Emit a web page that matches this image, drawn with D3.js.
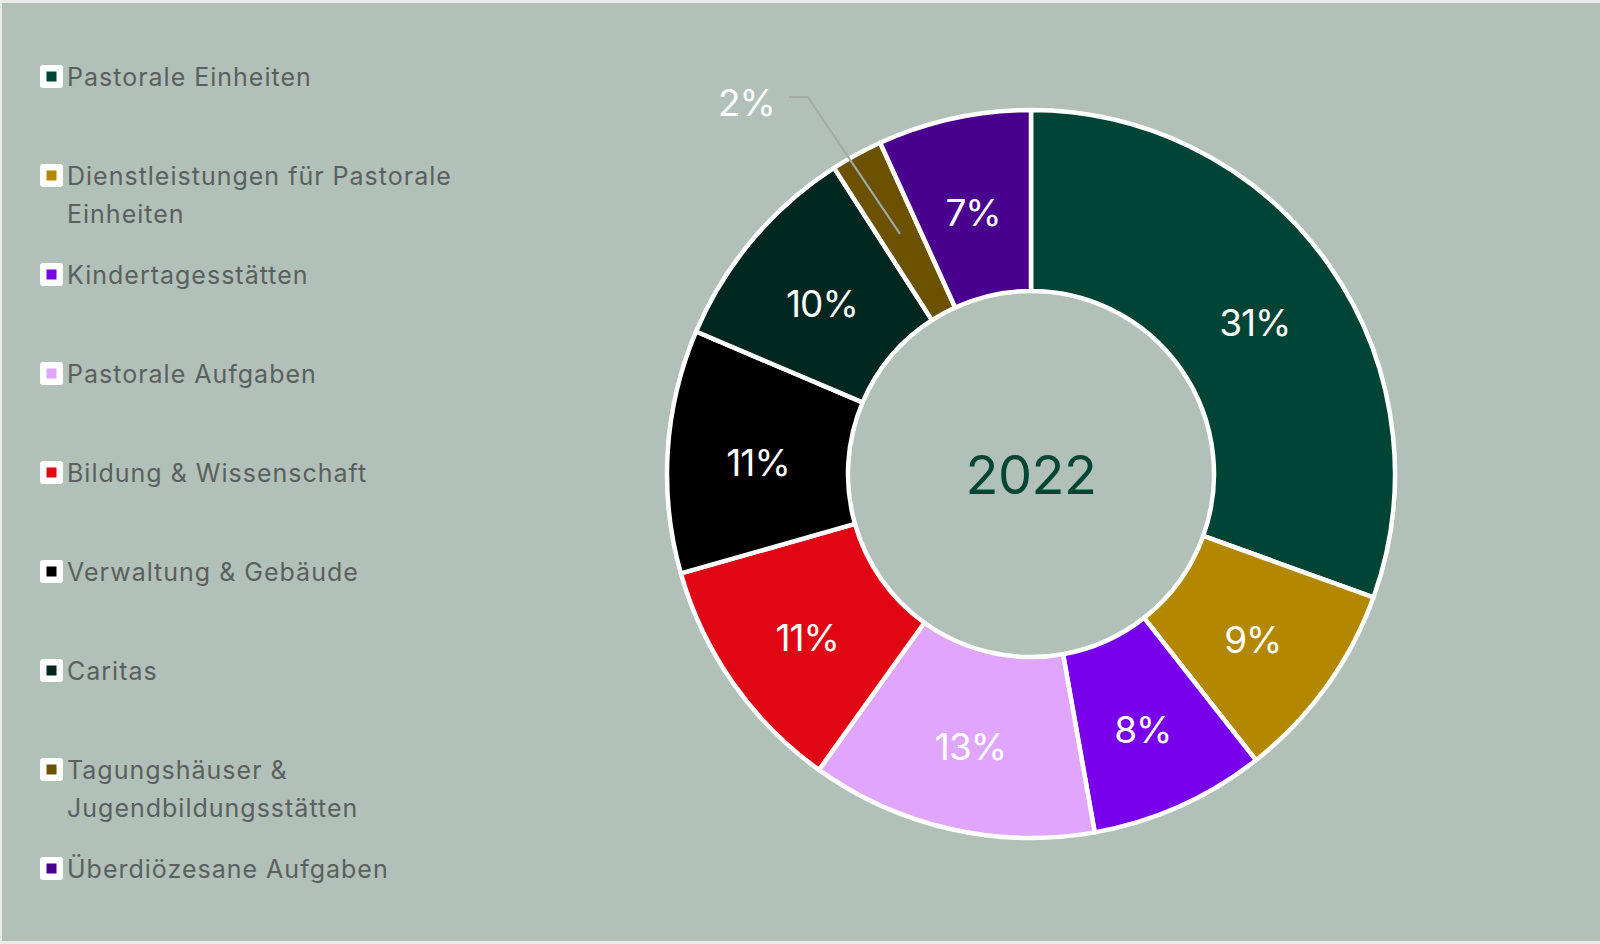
<!DOCTYPE html>
<html>
<head>
<meta charset="utf-8">
<script src="https://cdn.jsdelivr.net/npm/d3@7"></script>
<style>
  html, body { margin: 0; padding: 0; background: #e9ebea; }
  svg { display: block; }
  text { font-family: Inter, "Open Sans", sans-serif; }
</style>
</head>
<body>
<svg id="chart" width="1600" height="944"></svg>
<script>
// categories in clockwise order from 12 o'clock
const categories = [
  "Pastorale Einheiten",
  "Dienstleistungen für Pastorale Einheiten",
  "Kindertagesstätten",
  "Pastorale Aufgaben",
  "Bildung & Wissenschaft",
  "Verwaltung & Gebäude",
  "Caritas",
  "Tagungshäuser & Jugendbildungsstätten",
  "Überdiözesane Aufgaben"
];
// shares
const shares = [30.5, 8.9, 7.8, 12.7, 10.7, 10.8, 9.5, 2.3, 6.8];
// percentage labels as printed
const labels = ["31%", "9%", "8%", "13%", "11%", "11%", "10%", "2%", "7%"];
const colors = ["#004436", "#b38800", "#7800eb", "#e0a6fe", "#e10614",
                "#000000", "#00271f", "#6c5100", "#4a008f"];
const year = "2022";

const svg = d3.select("#chart");

// panel
svg.append("rect")
  .attr("x", 2).attr("y", 3)
  .attr("width", 1598).attr("height", 938)
  .attr("fill", "#b2c0ba");

const data = categories.map((c, i) => ({ name: c, value: shares[i], label: labels[i], color: colors[i] }));

// Legend
const legend = svg.append("g").attr("transform", "translate(40,65)");
const item = legend.selectAll("g.item")
  .data(data)
  .enter()
  .append("g")
  .attr("class", "item")
  .attr("transform", (d, i) => `translate(0,${i * 99})`);

item.append("rect")
  .attr("width", 23).attr("height", 23)
  .attr("rx", 3)
  .attr("fill", "#ffffff");
item.append("rect")
  .attr("x", 6.5).attr("y", 6.5)
  .attr("width", 10).attr("height", 10)
  .attr("fill", d => d.color);

item.append("text")
  .attr("x", 27)
  .attr("y", 21)
  .attr("fill", "#5a605d")
  .attr("font-size", 25)
  .attr("letter-spacing", 1)
  .each(function(d) {
    const t = d3.select(this);
    const words = d.name.split(" ");
    let line = [];
    let tspan = t.append("tspan").attr("x", 27).attr("dy", 0);
    words.forEach(w => {
      line.push(w);
      tspan.text(line.join(" "));
      if (tspan.node().getComputedTextLength() > 430 && line.length > 1) {
        line.pop();
        tspan.text(line.join(" "));
        line = [w];
        tspan = t.append("tspan").attr("x", 27).attr("dy", 38).text(w);
      }
    });
  });

// Donut
const cx = 1031, cy = 474;
const outerR = 364, innerR = 183;
const g = svg.append("g").attr("transform", `translate(${cx},${cy})`);

const pie = d3.pie().sort(null).value(d => d.value);
const arc = d3.arc().innerRadius(innerR).outerRadius(outerR);
const arcs = pie(data);

g.selectAll("path.slice")
  .data(arcs)
  .enter()
  .append("path")
  .attr("class", "slice")
  .attr("d", arc)
  .attr("fill", d => d.data.color)
  .attr("stroke", "#ffffff")
  .attr("stroke-width", 4.5)
  .attr("stroke-linejoin", "round");

// labels inside slices (small slices get a leader line)
const small = d => (d.endAngle - d.startAngle) < 0.25;
// elbow of the leader line, a bit outside the ring
const elbow = d => {
  const a = (d.startAngle + d.endAngle) / 2 - 0.035;
  return [438 * Math.sin(a), -438 * Math.cos(a)];
};

g.selectAll("text.pct")
  .data(arcs.filter(d => !small(d)))
  .enter()
  .append("text")
  .attr("class", "pct")
  .attr("transform", d => `translate(${arc.centroid(d)})`)
  .attr("text-anchor", "middle")
  .attr("dy", "0.52em")
  .attr("fill", "#ffffff")
  .attr("font-size", 37)
  .attr("letter-spacing", -1)
  .text(d => d.data.label);

const smallArcs = arcs.filter(small);
g.selectAll("polyline.leader")
  .data(smallArcs)
  .enter()
  .append("polyline")
  .attr("class", "leader")
  .attr("fill", "none")
  .attr("stroke", "#a3aaa7")
  .attr("stroke-width", 2)
  .attr("points", d => {
    const a = arc.centroid(d);
    const b = elbow(d);
    return [a, b, [b[0] - 19, b[1]]].map(p => p.join(",")).join(" ");
  });

g.selectAll("text.pct-out")
  .data(smallArcs)
  .enter()
  .append("text")
  .attr("class", "pct-out")
  .attr("x", d => elbow(d)[0] - 33)
  .attr("y", d => elbow(d)[1])
  .attr("text-anchor", "end")
  .attr("dy", "0.5em")
  .attr("fill", "#ffffff")
  .attr("font-size", 37)
  .attr("letter-spacing", -1)
  .text(d => d.data.label);

// year in the middle
g.append("text")
  .attr("text-anchor", "middle")
  .attr("y", 20)
  .attr("fill", "#004634")
  .attr("font-size", 54)
  .attr("letter-spacing", -0.5)
  .text(year);
</script>
</body>
</html>
